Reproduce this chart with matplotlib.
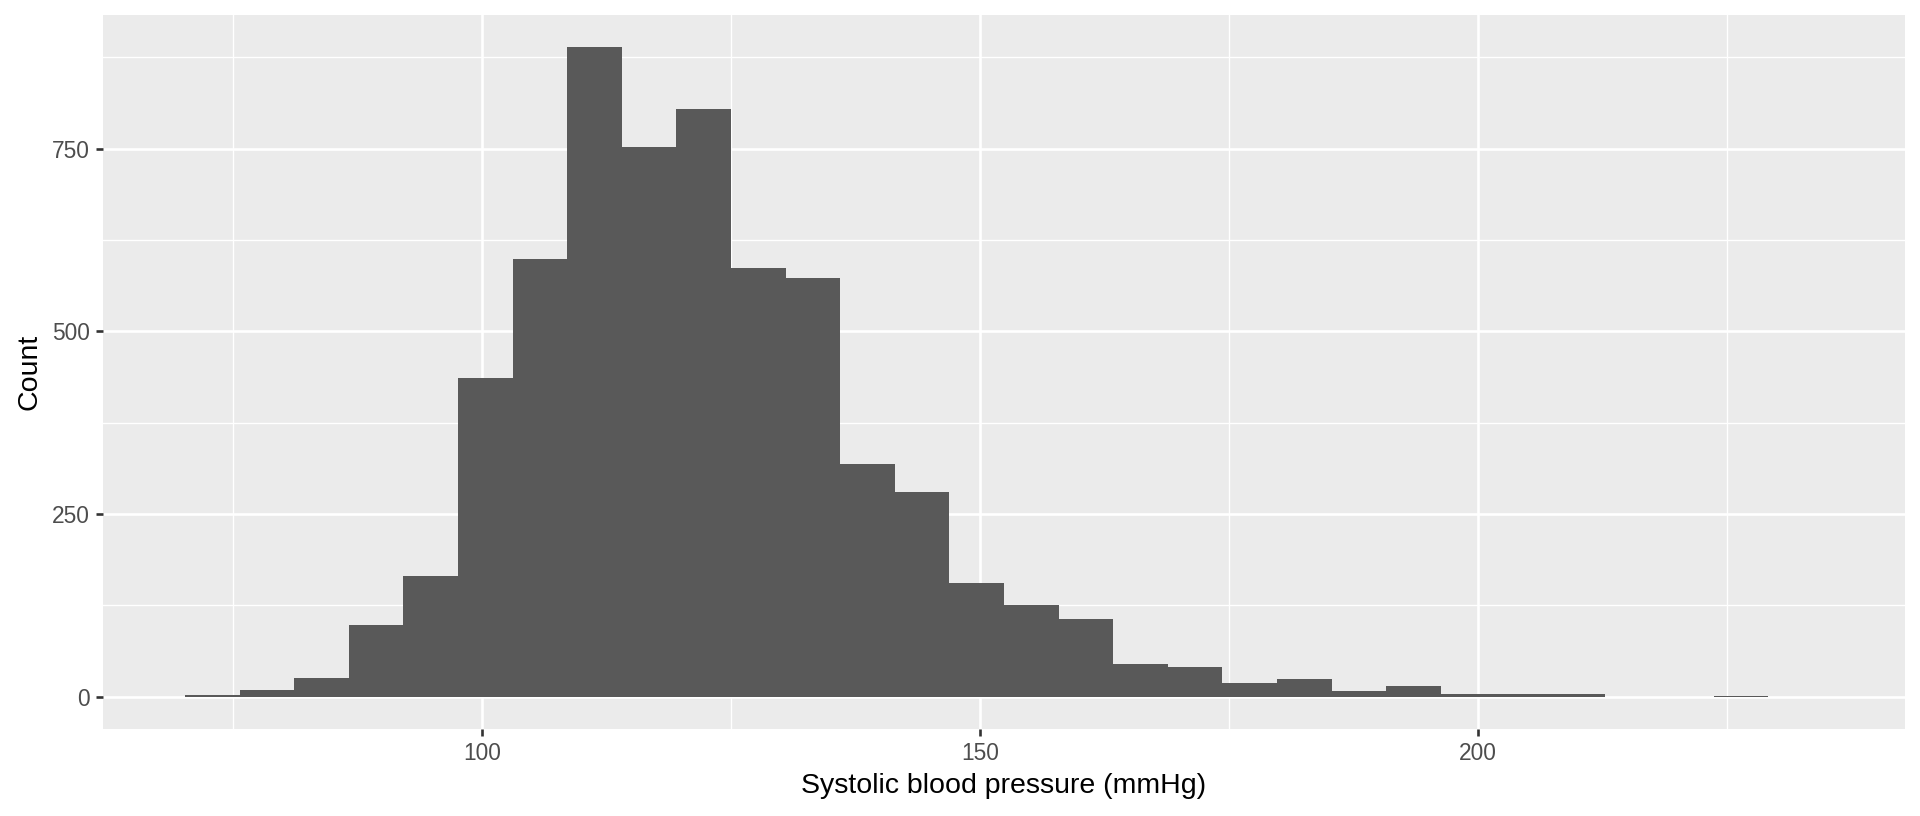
import numpy as np
import matplotlib
matplotlib.use("Agg")
import matplotlib.pyplot as plt
from matplotlib.ticker import FixedLocator

# ---- data (30 bins like ggplot's default) ----
bp_min = 72.95          # smallest systolic value (centre of first bin)
bp_max = 231.9          # largest systolic value (centre of last bin)
n_bins = 30
counts = [3, 10, 26, 98, 165, 436, 599, 889, 753, 805,
          587, 573, 318, 280, 156, 125, 106, 45, 41, 19,
          25, 8, 15, 4, 4, 4, 0, 0, 1, 0]
x_ticks = [100, 150, 200]
x_minor = [75, 125, 175, 225]
y_ticks = [0, 250, 500, 750]
y_minor = [125, 375, 625, 875]
x_title = "Systolic blood pressure (mmHg)"
y_title = "Count"

# ggplot-style binning: width = range/(bins-1), first bin centred on min
bw = (bp_max - bp_min) / (n_bins - 1)
edges = bp_min - bw / 2 + bw * np.arange(n_bins + 1)

plt.rcParams['font.family'] = ['Liberation Sans', 'DejaVu Sans']

fig = plt.figure(figsize=(19.2, 8.16), dpi=100)
ax = fig.add_axes([103 / 1920, 1 - 729.3 / 816, (1905 - 103) / 1920, (729.3 - 14.7) / 816])
ax.set_facecolor('#EBEBEB')
for s in ax.spines.values():
    s.set_visible(False)

ax.bar(edges[:-1], counts, width=bw, align='edge', color='#595959', linewidth=0, zorder=3)

lo, hi = edges[0], edges[-1]
pad = 0.05 * (hi - lo)
ax.set_xlim(lo - pad, hi + pad)
ymax = max(counts)
ax.set_ylim(-0.05 * ymax, ymax * 1.05)

ax.xaxis.set_major_locator(FixedLocator(x_ticks))
ax.xaxis.set_minor_locator(FixedLocator(x_minor))
ax.yaxis.set_major_locator(FixedLocator(y_ticks))
ax.yaxis.set_minor_locator(FixedLocator(y_minor))
ax.grid(which='major', color='white', linewidth=1.9, zorder=1)
ax.grid(which='minor', color='white', linewidth=0.95, zorder=1)
ax.set_axisbelow(True)

ax.tick_params(axis='both', which='major', length=5.1, width=1.9, color='#333333',
               labelsize=16.4, labelcolor='#4D4D4D')
ax.tick_params(axis='x', which='major', pad=4)
ax.tick_params(axis='y', which='major', pad=4.5)
ax.tick_params(which='minor', length=0)

ax.set_xlabel(x_title, fontsize=20.5, color='black', labelpad=6)
ax.set_ylabel(y_title, fontsize=20.5, color='black', labelpad=6.5)

fig.savefig('out.png', dpi=100)
